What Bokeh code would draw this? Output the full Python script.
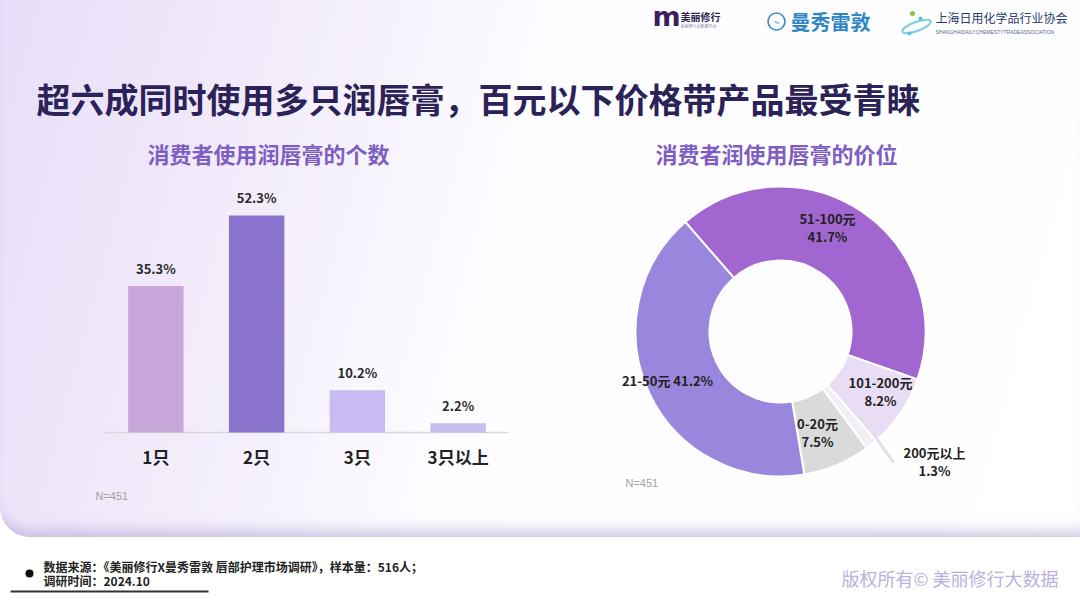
from bokeh.plotting import figure
from bokeh.models import Range1d, ColumnDataSource
from bokeh.layouts import column
from bokeh.embed import file_html
from bokeh.resources import INLINE
from bokeh.core.properties import value
import math

FONT = "Noto Sans CJK SC"

# ---------------- data ----------------
title_text = "超六成同时使用多只润唇膏，百元以下价格带产品最受青睐"
left_subtitle = "消费者使用润唇膏的个数"
right_subtitle = "消费者润使用唇膏的价位"

count_categories = ["1只", "2只", "3只", "3只以上"]
count_values = [35.3, 52.3, 10.2, 2.2]

price_categories = ["51-100元", "101-200元", "200元以上", "0-20元", "21-50元"]
price_values = [41.7, 8.2, 1.3, 7.5, 41.2]

sample_note = "N=451"
source_line1 = "数据来源：《美丽修行X曼秀雷敦 唇部护理市场调研》，样本量：516人；"
source_line2 = "调研时间：2024.10"
copyright_text = "版权所有© 美丽修行大数据"

# ---------------- styles / layout ----------------
bar_colors = ["#C8A8DA", "#8A73CC", "#C9BAF3", "#C6BDEA"]
pie_colors = ["#A266D1", "#E8DDF4", "#F1EEF5", "#DADADA", "#9A87DD"]
# label offsets (px, y up) relative to donut centre for each slice
pie_label_pos = [(47, 104), (100, -60), (154, -130), (37, -101), (-113, -49)]

W, H_CARD, H_FOOT = 1080, 537, 71

# bar panel geometry (pixels)
BAR_LEFT, BAR_RIGHT, BAR_BASE, PX_PER_PCT = 105, 508, 432, 4.15
# donut geometry (pixels)
CX, CY, R_OUT, R_IN = 780, 331, 145, 71


def clean(p):
    p.background_fill_color = None
    p.border_fill_color = None
    p.outline_line_color = None
    p.xgrid.visible = False
    p.ygrid.visible = False
    return p


p = figure(width=W, height=H_CARD, x_range=Range1d(0, W), y_range=Range1d(H_CARD, 0),
           output_backend="svg", toolbar_location=None, min_border=0,
           x_axis_type=None, y_axis_type=None)
clean(p)

# ---------- header: logos, title, subtitles ----------
p.text(x=[652], y=[16], text=["m"], text_font=value("DejaVu Sans"), text_font_style="bold",
       text_font_size="27px", text_color="#3A1E5E", text_align="left", text_baseline="middle")
p.text(x=[680], y=[16], text=["美丽修行"], text_font=value(FONT), text_font_style="bold",
       text_font_size="10px", text_color="#2E2350", text_align="left", text_baseline="middle")
p.text(x=[680], y=[25], text=["美丽修行大数据平台"], text_font=value(FONT),
       text_font_size="4px", text_color="#8A80A8", text_align="left", text_baseline="middle")
p.circle(x=[776], y=[21], radius=8.5, fill_color=None, line_color="#3A8BC4", line_width=1.6)
p.text(x=[776], y=[21], text=["~"], text_font=value(FONT), text_font_size="10px",
       text_color="#3A8BC4", text_align="center", text_baseline="middle")
p.text(x=[790], y=[21], text=["曼秀雷敦"], text_font=value(FONT), text_font_style="bold",
       text_font_size="20px", text_color="#2F86C4", text_align="left", text_baseline="middle")
p.ellipse(x=[916], y=[26], width=30, height=9, angle=0.35, fill_color=None,
          line_color="#7FCBE0", line_width=2)
p.circle(x=[912, 920, 909], y=[13, 18, 33], radius=[2.5, 2, 2],
         fill_color=["#8CC63F", "#5CC4D8", "#5CC4D8"], line_color=None)
p.text(x=[935], y=[17], text=["上海日用化学品行业协会"], text_font=value(FONT),
       text_font_size="12px", text_color="#2A3A6A", text_align="left", text_baseline="middle")
p.text(x=[935], y=[31], text=["SHANGHAIDAILYCHEMESTYTRADEASSOCIATION"],
       text_font=value("Liberation Sans"), text_font_size="5px", text_color="#5A6A8A",
       text_align="left", text_baseline="middle")

p.text(x=[36], y=[98], text=[title_text], text_font=value(FONT), text_font_style="bold",
       text_font_size="34px", text_color="#2B2257", text_align="left", text_baseline="middle")
p.text(x=[268, 776], y=[152, 152], text=[left_subtitle, right_subtitle], text_font=value(FONT),
       text_font_style="bold", text_font_size="22px", text_color="#7E5EC2",
       text_align="center", text_baseline="middle")

# ---------- bar chart (own scales on extra ranges) ----------
slot_px = (BAR_RIGHT - BAR_LEFT) / len(count_categories)
p.extra_x_ranges = {"slot": Range1d(-BAR_LEFT / slot_px, (W - BAR_LEFT) / slot_px)}
p.extra_y_ranges = {"pct": Range1d(-(H_CARD - BAR_BASE) / PX_PER_PCT, BAR_BASE / PX_PER_PCT)}

bsrc = ColumnDataSource(dict(pos=[i + 0.5 for i in range(len(count_categories))],
                             cat=count_categories, val=count_values, color=bar_colors,
                             zero=[0] * len(count_values),
                             label=[f"{v}%" for v in count_values]))
p.segment(x0=[0], y0=[0], x1=[len(count_categories)], y1=[0], x_range_name="slot",
          y_range_name="pct", line_color="#D8D8D8", line_width=1.5)
p.vbar(x="pos", top="val", bottom=0, width=0.55, fill_color="color", line_color=None,
       source=bsrc, x_range_name="slot", y_range_name="pct")
p.text(x="pos", y="val", text="label", source=bsrc, x_range_name="slot", y_range_name="pct",
       y_offset=-8, text_align="center", text_baseline="bottom", text_font=value(FONT),
       text_font_style="bold", text_font_size="13px", text_color="#2A2A2A")
p.text(x="pos", y="zero", text="cat", source=bsrc, x_range_name="slot", y_range_name="pct",
       y_offset=24, text_align="center", text_baseline="middle", text_font=value(FONT),
       text_font_style="bold", text_font_size="17px", text_color="#222222")
p.text(x=[95, 625], y=[495, 482], text=[sample_note, sample_note],
       text_font=value("Liberation Sans"), text_font_size="11px", text_color="#A0A0A0",
       text_align="left", text_baseline="middle")

# ---------- donut chart ----------
total = sum(price_values)
start_deg = 131.0
starts, ends, cum = [], [], 0.0
for v in price_values:
    s = start_deg - 360.0 * cum / total
    e = s - 360.0 * v / total
    starts.append(math.radians(s))
    ends.append(math.radians(e))
    cum += v
one_line = [c == "21-50元" for c in price_categories]
psrc = ColumnDataSource(dict(start=starts, end=ends, color=pie_colors,
                             lx=[CX + q[0] for q in pie_label_pos],
                             ly=[CY - q[1] for q in pie_label_pos],
                             top=[f"{c} {v}%" if o else c
                                  for c, v, o in zip(price_categories, price_values, one_line)],
                             bottom=["" if o else f"{v}%" for v, o in zip(price_values, one_line)],
                             top_off=[0 if o else -9 for o in one_line]))
p.annular_wedge(x=CX, y=CY, inner_radius=R_IN, outer_radius=R_OUT, start_angle="start",
                end_angle="end", direction="clock", fill_color="color", line_color="white",
                line_width=2, source=psrc)
mid = (starts[2] + ends[2]) / 2
p.segment(x0=[CX + (R_IN + 50) * math.cos(mid) + 4], y0=[CY - (R_IN + 50) * math.sin(mid) - 10],
          x1=[CX + 113], y1=[CY + 131], line_color="#E2DFE8", line_width=3)
p.text(x="lx", y="ly", text="top", source=psrc, y_offset="top_off", text_align="center",
       text_baseline="middle", text_font=value(FONT), text_font_style="bold",
       text_font_size="13px", text_color="#222222")
p.text(x="lx", y="ly", text="bottom", source=psrc, y_offset=9, text_align="center",
       text_baseline="middle", text_font=value(FONT), text_font_style="bold",
       text_font_size="13px", text_color="#222222")

# ---------------- footer ----------------
ft = figure(width=W, height=H_FOOT, x_range=Range1d(0, W), y_range=Range1d(H_CARD + H_FOOT, H_CARD),
            output_backend="svg", toolbar_location=None, min_border=0,
            x_axis_type=None, y_axis_type=None)
clean(ft)
ft.circle(x=[29], y=[573], radius=4, fill_color="#111111", line_color=None)
ft.text(x=[43, 43], y=[566, 580], text=[source_line1, source_line2], text_font=value(FONT),
        text_font_style="bold", text_font_size="12px", text_color="#222222",
        text_align="left", text_baseline="middle")
ft.segment(x0=[10], y0=[591], x1=[208], y1=[591], line_color="#333333", line_width=2)
ft.text(x=[1058], y=[577], text=[copyright_text], text_font=value(FONT),
        text_font_size="18px", text_color="#BCB0DC", text_align="right", text_baseline="middle")

card = column(p, width=W, height=H_CARD,
              styles={"background": "linear-gradient(105deg, #E7DEF9 0%, #F2ECFB 24%, #FDFCFF 46%, #FFFFFF 100%)",
                      "border-bottom-left-radius": "30px",
                      "box-shadow": "inset 0 -16px 14px -10px rgba(165,155,205,0.55)"})
root = column(card, ft, width=W, height=H_CARD + H_FOOT, styles={"background": "#FFFFFF"})

open("out.html", "w").write(file_html(root, INLINE))
